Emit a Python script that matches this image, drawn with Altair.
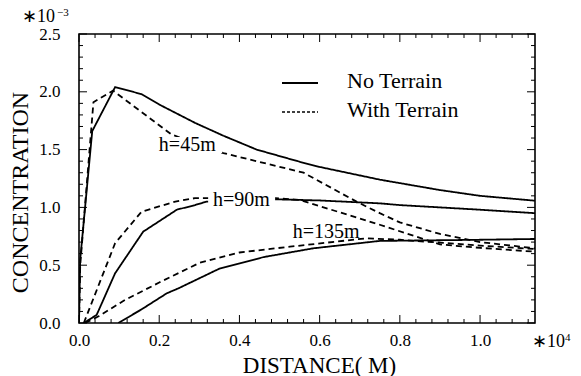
import altair as alt
import pandas as pd

# ---------------- data ----------------
nt45_x = [0.0, 0.003, 0.033, 0.09, 0.156, 0.2, 0.29, 0.36, 0.443, 0.55, 0.6, 0.75, 0.8, 0.9, 1.0, 1.137]
nt45_y = [0.0, 0.55, 1.66, 2.04, 1.98, 1.89, 1.73, 1.62, 1.50, 1.395, 1.35, 1.24, 1.21, 1.15, 1.10, 1.058]

wt45_x = [0.0, 0.003, 0.036, 0.085, 0.231, 0.36, 0.56, 0.692, 0.75, 0.8, 0.9, 1.0, 1.137]
wt45_y = [0.0, 0.5, 1.91, 2.01, 1.63, 1.47, 1.30, 1.05, 0.95, 0.87, 0.77, 0.70, 0.646]

nt90_x = [0.012, 0.044, 0.09, 0.16, 0.244, 0.289, 0.318, 0.49, 0.6, 0.75, 0.8, 1.0, 1.137]
nt90_y = [0.0, 0.07, 0.43, 0.79, 0.98, 1.02, 1.05, 1.07, 1.06, 1.035, 1.02, 0.98, 0.95]

wt90_x = [0.012, 0.09, 0.156, 0.24, 0.289, 0.318, 0.49, 0.55, 0.75, 0.9, 1.0, 1.137]
wt90_y = [0.0, 0.69, 0.963, 1.05, 1.08, 1.08, 1.08, 1.065, 0.85, 0.68, 0.65, 0.617]

nt135_x = [0.098, 0.156, 0.219, 0.248, 0.35, 0.46, 0.584, 0.75, 1.0, 1.137]
nt135_y = [0.0, 0.118, 0.257, 0.30, 0.47, 0.57, 0.646, 0.71, 0.72, 0.727]

wt135_x = [0.015, 0.05, 0.115, 0.2, 0.3, 0.4, 0.526, 0.717, 0.8, 1.0, 1.137]
wt135_y = [0.0, 0.06, 0.2, 0.35, 0.52, 0.61, 0.66, 0.733, 0.72, 0.67, 0.64]

series_names = ["nt45", "wt45", "nt90", "wt90", "nt135", "wt135"]
series_kind = ["No Terrain", "With Terrain", "No Terrain", "With Terrain", "No Terrain", "With Terrain"]
series_xs = [nt45_x, wt45_x, nt90_x, wt90_x, nt135_x, wt135_x]
series_ys = [nt45_y, wt45_y, nt90_y, wt90_y, nt135_y, wt135_y]

label_text = ["h=45m", "h=90m", "h=135m"]
label_x = [0.27, 0.405, 0.616]
label_y = [1.54, 1.064, 0.79]
box_x0 = [0.185, 0.322, 0.521]
box_x1 = [0.357, 0.489, 0.711]
box_y0 = [1.47, 0.986, 0.745]
box_y1 = [1.61, 1.14, 0.865]

x_major = [0.0, 0.2, 0.4, 0.6, 0.8, 1.0]
x_minor = [0.04, 0.08, 0.12, 0.16, 0.24, 0.28, 0.32, 0.36, 0.44, 0.48, 0.52, 0.56,
           0.64, 0.68, 0.72, 0.76, 0.84, 0.88, 0.92, 0.96, 1.04, 1.08, 1.12]
y_major = [0.0, 0.5, 1.0, 1.5, 2.0, 2.5]
y_minor = [0.1, 0.2, 0.3, 0.4, 0.6, 0.7, 0.8, 0.9, 1.1, 1.2, 1.3, 1.4,
           1.6, 1.7, 1.8, 1.9, 2.1, 2.2, 2.3, 2.4]

legend_labels = ["No Terrain", "With Terrain"]

# ---------------- build ----------------
W, H = 456, 289
FONT = "Liberation Serif"

rows = []
for name, kind, xs_, ys_ in zip(series_names, series_kind, series_xs, series_ys):
    for i, (a, b) in enumerate(zip(xs_, ys_)):
        rows.append({"series": name, "kind": kind, "x": a, "y": b, "i": i})
lines_df = pd.DataFrame(rows)

xsc = alt.Scale(domain=[0, 1.137], nice=False, zero=False)
ysc = alt.Scale(domain=[0, 2.5], nice=False, zero=False)

XAX = alt.Axis(values=x_major, format=".1f", title="DISTANCE( M)", labelFontSize=17,
               labelPadding=9, titleFontSize=23, titleX=240, titleY=42,
               titleBaseline="middle", titleAlign="center", labelFlush=False,
               ticks=False, domain=False, grid=False,
               labelFont=FONT, titleFont=FONT, labelColor="black", titleColor="black",
               titleFontWeight="normal")
YAX = alt.Axis(values=y_major, format=".1f", title="CONCENTRATION", labelFontSize=17,
               labelPadding=19, titleFontSize=24, titleAngle=-90, titleX=-59, titleY=158,
               titleBaseline="middle", titleAlign="center", labelFlush=False,
               ticks=False, domain=False, grid=False,
               labelFont=FONT, titleFont=FONT, labelColor="black", titleColor="black",
               titleFontWeight="normal")


def X(field):
    return alt.X(field, scale=xsc, axis=XAX)


def Y(field):
    return alt.Y(field, scale=ysc, axis=YAX)


lines = alt.Chart(lines_df).mark_line(color="black", strokeWidth=1.8, clip=True).encode(
    x=X("x:Q"),
    y=Y("y:Q"),
    detail="series:N",
    strokeDash=alt.StrokeDash("kind:N", scale=alt.Scale(
        domain=["No Terrain", "With Terrain"], range=[[1, 0], [6, 4]]), legend=None),
    order="i:Q",
)

box_df = pd.DataFrame({"x0": box_x0, "x1": box_x1, "y0": box_y0, "y1": box_y1})
boxes = alt.Chart(box_df).mark_rect(fill="white", strokeWidth=0).encode(
    x=X("x0:Q"), x2="x1:Q",
    y=Y("y0:Q"), y2="y1:Q",
)

lab_df = pd.DataFrame({"t": label_text, "x": label_x, "y": label_y})
labels = alt.Chart(lab_df).mark_text(font=FONT, fontSize=20, color="black",
                                     align="center", baseline="middle").encode(
    x=X("x:Q"), y=Y("y:Q"), text="t:N",
)


def xticks(vals, length):
    d = pd.DataFrame({"v": vals})
    bot = alt.Chart(d).mark_rule(color="black", strokeWidth=1).encode(
        x=X("v:Q"), y=alt.value(H), y2=alt.value(H - length))
    top = alt.Chart(d).mark_rule(color="black", strokeWidth=1).encode(
        x=X("v:Q"), y=alt.value(0), y2=alt.value(length))
    return [bot, top]


def yticks(vals, length):
    d = pd.DataFrame({"v": vals})
    left = alt.Chart(d).mark_rule(color="black", strokeWidth=1).encode(
        y=Y("v:Q"), x=alt.value(0), x2=alt.value(length))
    right = alt.Chart(d).mark_rule(color="black", strokeWidth=1).encode(
        y=Y("v:Q"), x=alt.value(W), x2=alt.value(W - length))
    return [left, right]


ticks = xticks(x_major, 8) + xticks(x_minor, 4) + yticks(y_major, 8) + yticks(y_minor, 4)

one = pd.DataFrame({"a": [0]})
leg_solid = alt.Chart(one).mark_rule(color="black", strokeWidth=1.8).encode(
    x=alt.value(203), x2=alt.value(239), y=alt.value(49))
leg_dash = alt.Chart(one).mark_rule(color="black", strokeWidth=1.6, strokeDash=[3, 2]).encode(
    x=alt.value(203), x2=alt.value(239), y=alt.value(78))
leg_t1 = alt.Chart(one).mark_text(font=FONT, fontSize=22, align="left", baseline="middle",
                                  text=legend_labels[0], color="black").encode(
    x=alt.value(268), y=alt.value(47))
leg_t2 = alt.Chart(one).mark_text(font=FONT, fontSize=22, align="left", baseline="middle",
                                  text=legend_labels[1], color="black").encode(
    x=alt.value(268), y=alt.value(76))

# exponent annotations
ex1a = alt.Chart(one).mark_text(font=FONT, fontSize=18, align="left", baseline="alphabetic",
                                text="∗10", color="black").encode(x=alt.value(-57), y=alt.value(-12))
ex1b = alt.Chart(one).mark_text(font=FONT, fontSize=11, align="left", baseline="alphabetic",
                                text="−3", color="black").encode(x=alt.value(-22), y=alt.value(-18))
ex2a = alt.Chart(one).mark_text(font=FONT, fontSize=18, align="left", baseline="alphabetic",
                                text="∗10", color="black").encode(x=alt.value(453), y=alt.value(313))
ex2b = alt.Chart(one).mark_text(font=FONT, fontSize=11, align="left", baseline="alphabetic",
                                text="4", color="black").encode(x=alt.value(486), y=alt.value(307))

chart = alt.layer(
    lines, boxes, labels, *ticks, leg_solid, leg_dash, leg_t1, leg_t2, ex1a, ex1b, ex2a, ex2b
).properties(
    width=W, height=H,
    background="white",
    autosize=alt.AutoSizeParams(type="none"),
    padding={"left": 79, "top": 34, "right": 46, "bottom": 53},
).configure_view(
    stroke="black", strokeWidth=1.6
)

chart.save("out.html", embed_options={"renderer": "svg", "actions": False})
